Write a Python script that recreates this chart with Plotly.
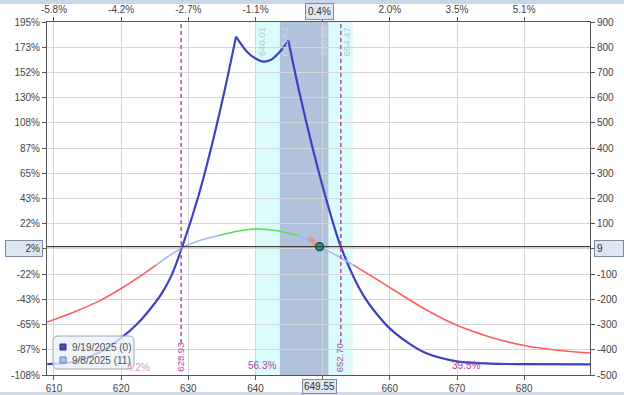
import plotly.graph_objects as go

# ---------------- data ----------------
# expiration curve (9/19/2025) in three pieces (sharp peaks at the strikes)
exp_left_price = [609, 613, 616.8, 620.1, 622.3, 624.3, 626, 627.5, 629.1, 631.5, 633.7, 635.5, 637.1]
exp_left_pnl = [-457, -447, -410, -351, -300, -239, -178, -105, 9, 209, 433, 640, 842]
exp_mid_price = [637.1, 638.7, 640, 641.2, 642.3, 643.2, 644.2, 644.9]
exp_mid_pnl = [842, 783, 755, 743, 750, 770, 800, 826]
exp_right_price = [644.9, 646.5, 648.2, 650.4, 652.7, 656.1, 660.1, 665.1, 670.2, 675, 680.1, 689.8]
exp_right_pnl = [826, 625, 433, 209, 9, -186, -318, -410, -447, -455, -457, -458]

# T+0 curve (9/8/2025, 11 days)
t0_price = [609, 613, 617, 620, 623, 625.3, 627, 629, 631, 633, 634.7, 637.5, 640.3, 643, 646.2,
            648, 649.55, 652, 654.6, 658, 661, 665, 670, 675, 680, 685, 689.8]
t0_pnl = [-290, -250, -203, -157, -105, -62, -30, 4, 27, 43, 54, 71, 79, 73, 54,
          31, 9, -25, -64, -120, -170, -235, -303, -350, -383, -402, -413]
t0_breaks = [0, 5, 10, 14, 18, 26]
t0_colors = ["#ff5c5c", "#9dbdf2", "#52e052", "#9dbdf2", "#ff5c5c"]

current_price = 649.55
current_pnl = 9
delta_price = [647.85, 649.55]
delta_pnl = [46, 9]

breakevens = [628.93, 652.70]
band_outer = [640.01, 654.47]
band_inner = [643.63, 650.85]
prob_labels = [("56.3%", 640.95), ("39.5%", 671.4)]
faded_label = ("4.2%", 622.6)

x_ticks = [610, 620, 630, 640, 650, 660, 670, 680]
x_tick_text = ["610", "620", "630", "640", "", "660", "670", "680"]
top_tick_text = ["-5.8%", "-4.2%", "-2.7%", "-1.1%", "", "2.0%", "3.5%", "5.1%"]
y_ticks = [-500, -400, -300, -200, -100, 0, 100, 200, 300, 400, 500, 600, 700, 800, 900]
pct_tick_text = ["-108%", "-87%", "-65%", "-43%", "-22%", "", "22%", "43%", "65%", "87%",
                 "108%", "130%", "152%", "173%", "195%"]
usd_tick_text = ["-500", "-400", "-300", "-200", "-100", "", "100", "200", "300", "400",
                 "500", "600", "700", "800", "900"]

legend_names = ["9/19/2025 (0)", "9/8/2025 (11)"]

X_RANGE = [608.96, 689.8]
Y_RANGE = [-500, 900]

# ---------------- layout geometry (pixels) ----------------
W, H = 624, 395
L, R, T, B = 47, 34, 22, 20
PW, PH = W - L - R, H - T - B


def px(xp):
    return (xp - L) / PW


def py(yp):
    return (H - B - yp) / PH


FONT = "Liberation Sans, Arial, sans-serif"
TICK_COLOR = "#444444"
PURPLE = "#a646a6"

fig = go.Figure()

# expiration curve
for xs, ys in [(exp_left_price, exp_left_pnl), (exp_mid_price, exp_mid_pnl), (exp_right_price, exp_right_pnl)]:
    fig.add_trace(go.Scatter(x=xs, y=ys, mode="lines", showlegend=False, hoverinfo="skip",
                             line=dict(color="#4040c4", width=2.2, shape="spline", smoothing=0.8)))

# T+0 curve, coloured pieces
for i, col in enumerate(t0_colors):
    a, b = t0_breaks[i], t0_breaks[i + 1]
    fig.add_trace(go.Scatter(x=t0_price[a:b + 1], y=t0_pnl[a:b + 1], mode="lines", showlegend=False,
                             hoverinfo="skip",
                             line=dict(color=col, width=1.6, shape="spline", smoothing=0.8)))

# delta stub and current point
fig.add_trace(go.Scatter(x=delta_price, y=delta_pnl, mode="lines", showlegend=False, hoverinfo="skip",
                         line=dict(color="rgba(236,140,112,0.65)", width=5)))
fig.add_trace(go.Scatter(x=[current_price], y=[current_pnl], mode="markers", showlegend=False,
                         hoverinfo="skip",
                         marker=dict(color="#1c9c9c", size=8, line=dict(color="#124848", width=1.2))))

# invisible trace for the top / right axes
fig.add_trace(go.Scatter(x=[X_RANGE[0]], y=[0], xaxis="x2", yaxis="y2", mode="markers",
                         marker=dict(opacity=0), showlegend=False, hoverinfo="skip"))

shapes = []
# probability bands
shapes.append(dict(type="rect", xref="x", yref="paper", x0=band_outer[0], x1=band_outer[1], y0=0, y1=1,
                   fillcolor="#dcfcfc", line=dict(width=0), layer="below"))
shapes.append(dict(type="rect", xref="x", yref="paper", x0=band_inner[0], x1=band_inner[1], y0=0, y1=1,
                   fillcolor="#b0c2dc", line=dict(width=0), layer="below"))
# breakeven dashed lines
for be in breakevens:
    shapes.append(dict(type="line", xref="x", yref="paper", x0=be, x1=be, y0=py(343), y1=1,
                       line=dict(color="#b455b4", width=1.6, dash="4px,3px"), layer="above"))
# current P&L line
shapes.append(dict(type="line", xref="paper", yref="y", x0=0, x1=1, y0=current_pnl, y1=current_pnl,
                   line=dict(color="#3c3c3c", width=1.2), layer="above"))
# window bands
shapes.append(dict(type="rect", xref="paper", yref="paper", x0=px(0), x1=px(W), y0=py(4), y1=py(0),
                   fillcolor="#c9d6e8", line=dict(width=0)))
shapes.append(dict(type="rect", xref="paper", yref="paper", x0=px(0), x1=px(W), y0=py(395), y1=py(392),
                   fillcolor="#d3dae4", line=dict(width=0)))

# legend box (rounded)
lx0, lx1, ly0, ly1, r = 53, 134, 336, 369, 5
path = (f"M {px(lx0 + r)},{py(ly0)} L {px(lx1 - r)},{py(ly0)} Q {px(lx1)},{py(ly0)} {px(lx1)},{py(ly0 + r)} "
        f"L {px(lx1)},{py(ly1 - r)} Q {px(lx1)},{py(ly1)} {px(lx1 - r)},{py(ly1)} "
        f"L {px(lx0 + r)},{py(ly1)} Q {px(lx0)},{py(ly1)} {px(lx0)},{py(ly1 - r)} "
        f"L {px(lx0)},{py(ly0 + r)} Q {px(lx0)},{py(ly0)} {px(lx0 + r)},{py(ly0)} Z")
shapes.append(dict(type="path", xref="paper", yref="paper", path=path,
                   fillcolor="rgba(236,241,248,0.78)", line=dict(color="#9ba7b9", width=1), layer="above"))
legend_sq = [("#4a4ac4", "#2a2a80", 347), ("#a9c5f2", "#5a78a8", 360)]
for fc, lc, cy in legend_sq:
    shapes.append(dict(type="rect", xref="paper", yref="paper", x0=px(60), x1=px(66), y0=py(cy + 3),
                       y1=py(cy - 3), fillcolor=fc, line=dict(color=lc, width=1), layer="above"))

ann = []
for name, (_, _, cy) in zip(legend_names, legend_sq):
    ann.append(dict(xref="paper", yref="paper", x=px(70), y=py(cy), xanchor="left", yanchor="middle",
                    text=name, showarrow=False, font=dict(family=FONT, size=10, color="#505050")))

# band labels (rotated)
band_lbls = [(band_outer[0], 6, "#aec6d2"), (band_inner[0], 5, "#cbd6e6"),
             (band_inner[1], -5, "#cbd6e6"), (band_outer[1], -6, "#aec6d2")]
for v, sh, col in band_lbls:
    ann.append(dict(xref="x", yref="paper", x=v, y=py(25), xanchor="center", yanchor="top", xshift=sh,
                    text=f"{v:.2f}", textangle=-90, showarrow=False,
                    font=dict(family=FONT, size=9.5, color=col)))

# breakeven labels
for be in breakevens:
    ann.append(dict(xref="x", yref="paper", x=be, y=py(374), xanchor="center", yanchor="bottom", xshift=-1,
                    text=f"{be:.2f}", textangle=-90, showarrow=False,
                    font=dict(family=FONT, size=9.5, color=PURPLE)))
for txt, v in prob_labels:
    ann.append(dict(xref="x", yref="paper", x=v, y=py(365), xanchor="center", yanchor="middle",
                    text=txt, showarrow=False, font=dict(family=FONT, size=10, color=PURPLE)))
ann.append(dict(xref="x", yref="paper", x=faded_label[1], y=py(367), xanchor="center", yanchor="middle",
                text=faded_label[0], showarrow=False, font=dict(family=FONT, size=10, color="#cf9ad4")))

# value boxes
box = dict(bgcolor="#dde7f3", bordercolor="#7d8ca3", borderwidth=1, showarrow=False)
ann.append(dict(xref="x", yref="paper", x=current_price, y=py(379), xanchor="center", yanchor="top",
                borderpad=1, text=f"{current_price:.2f}",
                font=dict(family=FONT, size=10, color="#333"), **box))
ann.append(dict(xref="x", yref="paper", x=current_price, y=py(20), xanchor="center", yanchor="bottom",
                borderpad=2, text="0.4%", font=dict(family=FONT, size=10, color="#333"), **box))
ann.append(dict(xref="paper", yref="y", x=px(43), y=current_pnl, xanchor="right", yanchor="middle",
                borderpad=2, yshift=-2, width=32, align="right", text="2%",
                font=dict(family=FONT, size=10, color="#333"), **box))
ann.append(dict(xref="paper", yref="y", x=px(594), y=current_pnl, xanchor="left", yanchor="middle",
                borderpad=2, yshift=-2, width=24, align="left", text=str(current_pnl),
                font=dict(family=FONT, size=10, color="#333"), **box))

axis_common = dict(showline=True, linecolor="#555555", linewidth=1, ticks="outside", ticklen=4,
                   tickcolor="#555555", tickfont=dict(family=FONT, size=10, color=TICK_COLOR),
                   zeroline=False, fixedrange=True, automargin=False)

fig.update_layout(
    width=W, height=H,
    margin=dict(l=L, r=R, t=T, b=B, pad=0, autoexpand=False),
    paper_bgcolor="white", plot_bgcolor="white",
    showlegend=False,
    shapes=shapes, annotations=ann,
    xaxis=dict(range=X_RANGE, tickvals=x_ticks, ticktext=x_tick_text, showgrid=True,
               gridcolor="#d6d6d6", gridwidth=1, **axis_common),
    xaxis2=dict(range=X_RANGE, tickvals=x_ticks, ticktext=top_tick_text, overlaying="x", side="top",
                anchor="y", showgrid=False, **axis_common),
    yaxis=dict(range=Y_RANGE, tickvals=y_ticks, ticktext=pct_tick_text, showgrid=True,
               gridcolor="#d6d6d6", gridwidth=1, **axis_common),
    yaxis2=dict(range=Y_RANGE, tickvals=y_ticks, ticktext=usd_tick_text, overlaying="y", side="right",
                anchor="x", showgrid=False, **axis_common),
)

fig.write_html("out.html")
